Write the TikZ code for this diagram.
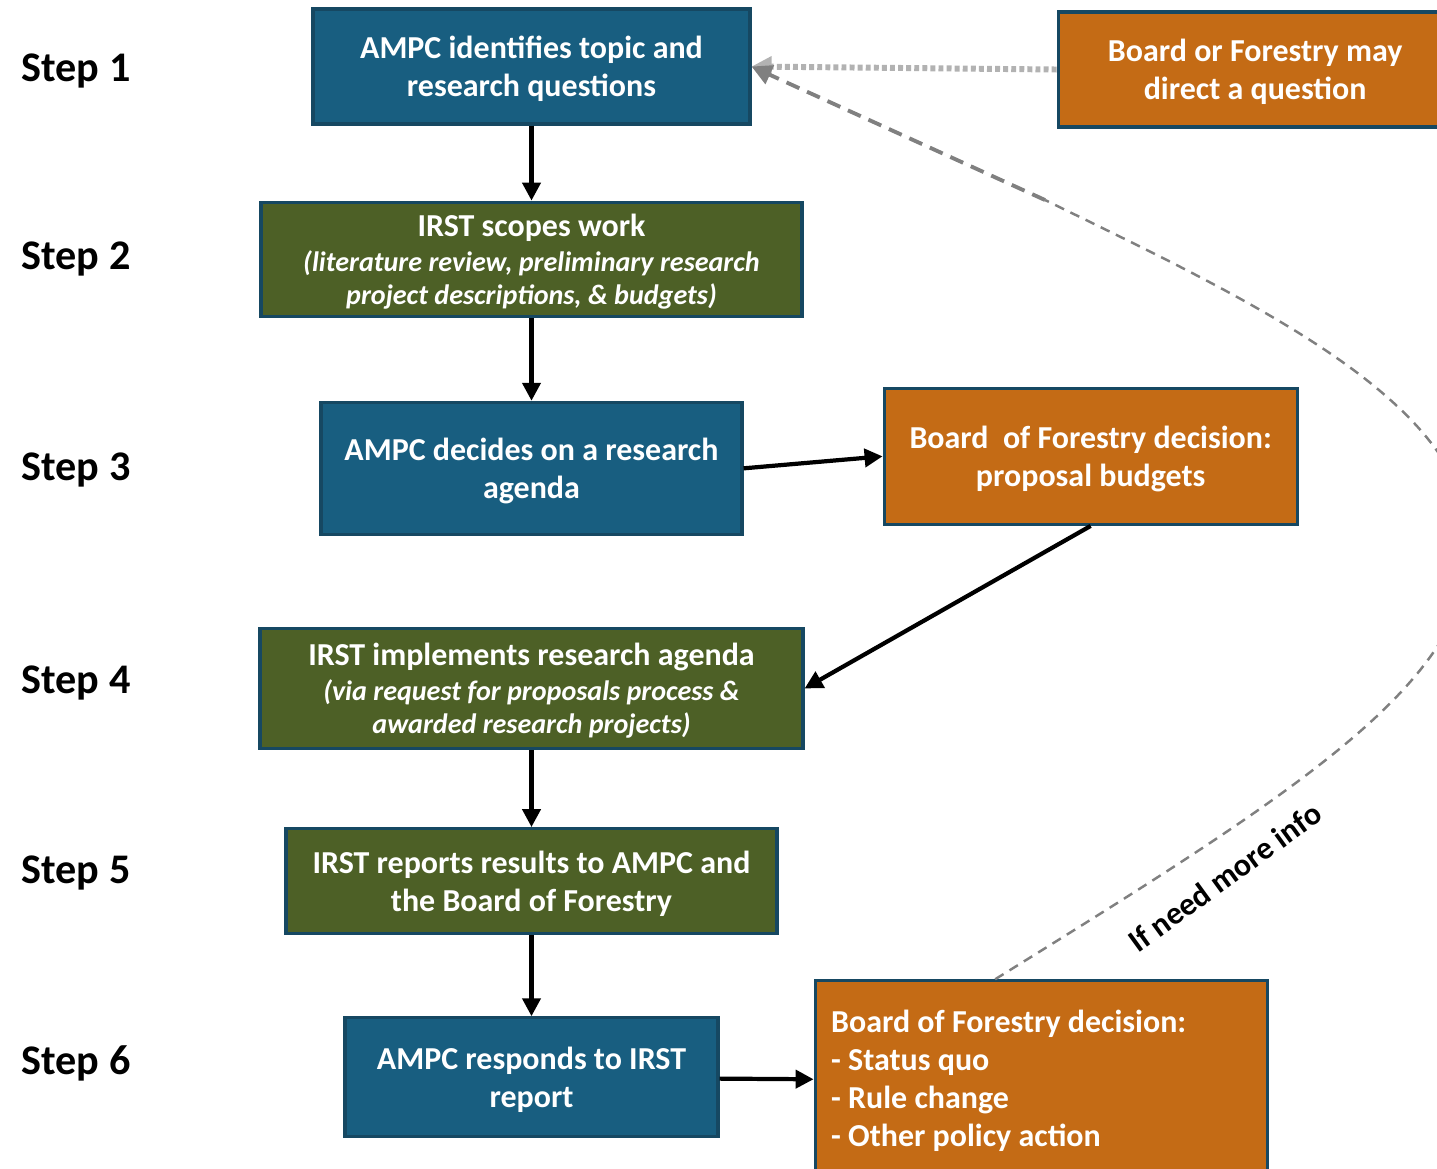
\documentclass[tikz,border=0pt]{standalone}
\usepackage{fontspec}
\setmainfont{Carlito}
\usepackage{xcolor}
\usetikzlibrary{shapes,arrows.meta,positioning,calc}

\definecolor{ampcblue}{RGB}{24,94,128}
\definecolor{irstgreen}{RGB}{77,96,38}
\definecolor{boforange}{RGB}{196,107,21}
\definecolor{edgeblue}{RGB}{22,72,98}

\newcommand{\detail}[1]{{\fontsize{8.0}{9.4}\selectfont\itshape #1}}

\begin{document}
\begin{tikzpicture}[
    node distance=0.8cm,
    every node/.style={font=\bfseries\fontsize{9.1}{10.8}\selectfont},
    textdrop/.style={text depth=-0.4pt},
    ampc/.style={rectangle, draw=edgeblue, line width=0.9pt, fill=ampcblue, text=white, align=center, inner ysep=1pt, textdrop},
    irst/.style={rectangle, draw=edgeblue, line width=0.9pt, fill=irstgreen, text=white, align=center, inner ysep=1pt, textdrop},
    board/.style={rectangle, draw=edgeblue, line width=0.9pt, fill=boforange, text=white, align=center, inner ysep=1pt},
    steplabel/.style={font=\bfseries\fontsize{12}{15}\selectfont},
    flow/.style={-{Triangle[length=0.18cm,width=0.18cm]}, line width=1.2pt},
    request/.style={-{Triangle[length=0.2cm,width=0.2cm]}, gray!60, line width=1.7pt, dash pattern=on 1.4pt off 0.9pt},
    moreinfo/.style={gray, line width=0.7pt, dash pattern=on 2.8pt off 2pt},
    moreinfoend/.style={-{Triangle[length=0.2cm,width=0.2cm]}, gray, line width=1.1pt, dash pattern=on 4pt off 2.4pt}
]
    \useasboundingbox (0,0) rectangle (14.37,-11.68);
    \clip (0,0) rectangle (14.37,-11.68);

    % step labels
    \foreach \i/\y in {1/0.71, 2/2.59, 3/4.70, 4/6.83, 5/8.73, 6/10.63}
        \node[steplabel] (s\i) at (0.76,-\y) {Step \i};

    % main column
    \node[ampc, minimum width=4.37cm, minimum height=1.15cm] (b1) at (5.315,-0.665)
        {AMPC identifies topic and\\research questions};
    \node[irst, below=0.75cm of b1, minimum width=5.41cm, minimum height=1.14cm] (b2)
        {IRST scopes work\\[-0.8pt]\detail{(literature review, preliminary research}\\[-1.4pt]\detail{project descriptions, \& budgets)}};
    \node[ampc, below=0.83cm of b2, minimum width=4.21cm, minimum height=1.32cm] (b3)
        {AMPC decides on a research\\agenda};
    \node[irst, below=0.91cm of b3, minimum width=5.43cm, minimum height=1.20cm] (b4)
        {IRST implements research agenda\\[-0.8pt]\detail{(via request for proposals process \&}\\[-1.4pt]\detail{awarded research projects)}};
    \node[irst, below=0.77cm of b4, minimum width=4.91cm, minimum height=1.05cm] (b5)
        {IRST reports results to AMPC and\\the Board of Forestry};
    \node[ampc, below=0.81cm of b5, minimum width=3.73cm, minimum height=1.19cm] (b6)
        {AMPC responds to IRST\\report};

    % board boxes
    \node[board, textdrop, right=3.05cm of b1, yshift=-0.03cm, minimum width=3.94cm, minimum height=1.15cm] (bof1)
        {Board or Forestry may\\direct a question};
    \node[board, textdrop, right=1.39cm of b3, yshift=0.12cm, minimum width=4.13cm, minimum height=1.36cm] (bof3)
        {Board\ \ of Forestry decision:\\proposal budgets};
    \node[board, right=0.94cm of b6, yshift=-0.035cm, align=flush left, text width=4.2cm, inner xsep=0.16cm, minimum height=2.0cm] (bof6)
        {Board of Forestry decision:\\- Status quo\\- Rule change\\- Other policy action};

    % flow arrows
    \draw[flow] (b1) -- (b2);
    \draw[flow] (b2) -- (b3);
    \draw[flow] (b3.east) -- (bof3.west);
    \draw[flow] (bof3.south) -- (b4.east);
    \draw[flow] (b4) -- (b5);
    \draw[flow] (b5) -- (b6);
    \draw[flow] (b6) -- (bof6);

    % feedback to step 1
    \draw[request] (bof1.west) -- (b1.east);
    \coordinate (bend) at (10.45,-2.00);
    \draw[moreinfo] ([xshift=-0.46cm]bof6.north) .. controls (13.00,-7.90) and (14.75,-6.80) .. (14.70,-5.40)
        .. controls (14.65,-4.00) and (12.50,-3.00) .. (bend);
    \draw[moreinfoend] (bend) -- (b1.east);
    \node[rotate=36] (info) at (12.25,-8.77) {If need more info};
\end{tikzpicture}
\end{document}
